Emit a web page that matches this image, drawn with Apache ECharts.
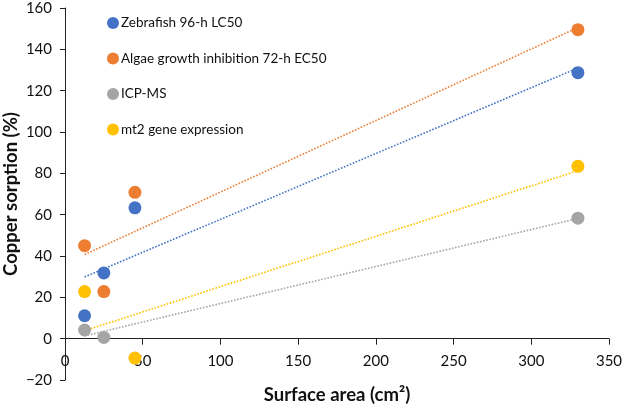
<!DOCTYPE html>
<html>
<head>
<meta charset="utf-8">
<script src="https://cdn.jsdelivr.net/npm/echarts@6/dist/echarts.min.js"></script>
<style>
  html, body { margin: 0; padding: 0; background: #fff; }
  #chart { width: 623px; height: 406px; }
</style>
</head>
<body>
<div id="chart"></div>
<script>
// 数据
var seriesNames = ["Zebrafish 96-h LC50", "Algae growth inhibition 72-h EC50", "ICP-MS", "mt2 gene expression"];
var colors = ["#4472C4", "#ED7D31", "#A5A5A5", "#FFC000"];
var zebrafish = [[12.6, 11.1], [25, 31.8], [45, 63.3], [330, 128.7]];
var algae = [[12.6, 45], [25, 22.8], [45, 70.8], [330, 149.5]];
var icpms = [[12.6, 4.2], [25, 0.6], [330, 58.3]];
var mt2 = [[12.6, 22.8], [45, -9.4], [330, 83.4]];

(function() {
  var myChart = echarts.init(document.getElementById("chart"));
  var allData = [zebrafish, algae, icpms, mt2];

  // 线性趋势线 (最小二乘)
  function trend(pts) {
    var n = pts.length, sx = 0, sy = 0, sxx = 0, sxy = 0;
    var minX = Infinity, maxX = -Infinity;
    pts.forEach(function(p) {
      sx += p[0]; sy += p[1]; sxx += p[0] * p[0]; sxy += p[0] * p[1];
      minX = Math.min(minX, p[0]); maxX = Math.max(maxX, p[0]);
    });
    var k = (n * sxy - sx * sy) / (n * sxx - sx * sx);
    var b = (sy - k * sx) / n;
    return [[minX, k * minX + b], [maxX, k * maxX + b]];
  }

  var series = [];
  for (var i = 0; i < allData.length; i++) {
    series.push({
      name: seriesNames[i] + " trend",
      type: "line",
      data: trend(allData[i]),
      symbol: "none",
      silent: true,
      z: 1,
      lineStyle: { color: colors[i], width: 1.6, type: [1.6, 1.6] }
    });
  }
  for (var j = 0; j < allData.length; j++) {
    series.push({
      name: seriesNames[j],
      type: "scatter",
      data: allData[j],
      symbolSize: 13,
      z: 3,
      itemStyle: { color: colors[j], opacity: 1 }
    });
  }

  // x 轴放在 y=0 处 (onZero 在这里不起作用, 用 offset)
  var yMin = -20, yMax = 160;
  var gridTop = 8, gridBottom = 26;
  var gridH = 406 - gridTop - gridBottom;
  var xOffset = -(0 - yMin) / (yMax - yMin) * gridH;

  var font = "Lato, 'Open Sans', sans-serif";
  var option = {
    animation: false,
    textStyle: { fontFamily: font },
    legend: {
      data: seriesNames,
      orient: "vertical",
      left: 102,
      top: 11,
      itemWidth: 12,
      itemHeight: 12,
      itemGap: 21.5,
      icon: "circle",
      textStyle: { fontSize: 13.5, color: "#111", fontFamily: font, padding: [0, 0, 0, -3] }
    },
    grid: { left: 65, right: 14, top: gridTop, bottom: gridBottom, containLabel: false, outerBoundsMode: "none" },
    xAxis: {
      type: "value",
      min: 0,
      max: 350,
      interval: 50,
      offset: xOffset,
      name: "Surface area (cm²)",
      nameLocation: "middle",
      nameGap: 47,
      nameMoveOverlap: false,
      nameTextStyle: { fontSize: 18.5, fontWeight: "bold", color: "#111", fontFamily: font },
      axisLine: { onZero: false, lineStyle: { color: "#222", width: 1 } },
      axisTick: { show: true, length: 6, lineStyle: { color: "#222" } },
      axisLabel: { fontSize: 15, color: "#111", margin: 15, fontFamily: font },
      splitLine: { show: false }
    },
    yAxis: {
      type: "value",
      min: yMin,
      max: yMax,
      interval: 20,
      name: "Copper sorption (%)",
      nameLocation: "middle",
      nameGap: 44,
      nameMoveOverlap: false,
      nameTextStyle: { fontSize: 18.5, fontWeight: "bold", color: "#111", fontFamily: font },
      axisLine: { show: true, onZero: false, lineStyle: { color: "#222", width: 1 } },
      axisTick: { show: true, length: 5, lineStyle: { color: "#222" } },
      axisLabel: {
        fontSize: 15, color: "#111", margin: 13, fontFamily: font,
        formatter: function(v) { return String(v).replace("-", "\u2212"); }
      },
      splitLine: { show: false }
    },
    series: series
  };
  myChart.setOption(option);
})();
</script>
</body>
</html>
